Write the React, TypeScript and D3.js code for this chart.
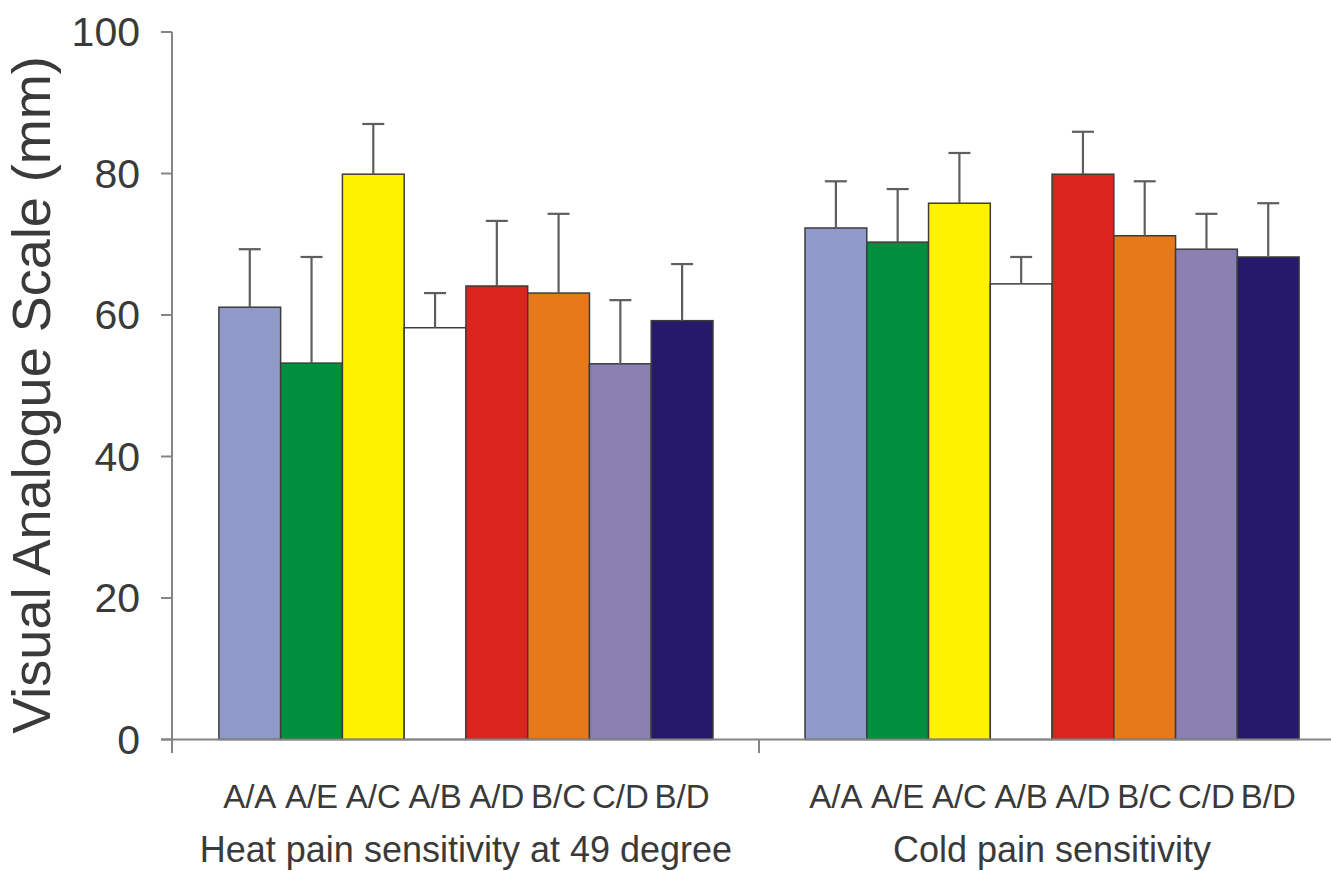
import * as d3 from "d3";

const groups = ["Heat pain sensitivity at 49 degree", "Cold pain sensitivity"];
const categories = ["A/A", "A/E", "A/C", "A/B", "A/D", "B/C", "C/D", "B/D"];
const barColors = ["#8f9ac8", "#008e3f", "#fff200", "#ffffff", "#dc241f", "#e8791b", "#8a80b2", "#26196b"];

// mean VAS (mm) and upper SD, per genotype
const heatMeans = [61.1, 53.2, 79.9, 58.2, 64.1, 63.1, 53.1, 59.2];
const heatSd = [8.2, 15.0, 7.1, 4.9, 9.2, 11.2, 9.0, 8.0];
const coldMeans = [72.3, 70.3, 75.8, 64.4, 79.9, 71.2, 69.3, 68.2];
const coldSd = [6.6, 7.5, 7.1, 3.8, 6.0, 7.7, 5.0, 7.6];

const yTicks = [0, 20, 40, 60, 80, 100];

const width = 1331;
const height = 871;
const axisColor = "#858585";
const textColor = "#3a3a3a";

export default function App() {
  const y = d3.scaleLinear().domain([0, 100]).range([739.5, 32]);
  const groupX = d3
    .scaleBand<string>()
    .domain(groups)
    .range([172, 1346])
    .paddingInner(0.157)
    .paddingOuter(0.08);
  const barX = d3
    .scaleBand<string>()
    .domain(categories)
    .range([0, groupX.bandwidth()])
    .padding(0);

  const series = [
    { group: groups[0], means: heatMeans, sd: heatSd },
    { group: groups[1], means: coldMeans, sd: coldSd },
  ];

  const axisX = 172;
  const y0 = y(0);
  const dividerX =
    ((groupX(groups[0]) ?? 0) + groupX.bandwidth() + (groupX(groups[1]) ?? 0)) / 2;
  const capHalf = 11;

  return (
    <svg
      width={width}
      height={height}
      style={{ position: "absolute", left: 0, top: 0, display: "block", background: "#fff" }}
      fontFamily="'Liberation Sans', Arial, sans-serif"
    >
      {/* bars */}
      {series.map((s) => {
        const gx = groupX(s.group) ?? 0;
        return (
          <g key={s.group}>
            {categories.map((c, i) => {
              const x = gx + (barX(c) ?? 0);
              return (
                <rect
                  key={c}
                  x={x}
                  y={y(s.means[i])}
                  width={barX.bandwidth()}
                  height={y0 - y(s.means[i])}
                  fill={barColors[i]}
                  stroke="#3c3c3c"
                  strokeWidth={1.5}
                />
              );
            })}
            {categories.map((c, i) => {
              const cx = gx + (barX(c) ?? 0) + barX.bandwidth() / 2;
              const top = y(s.means[i] + s.sd[i]);
              return (
                <g key={`err-${c}`} stroke="#5e5e5e" strokeWidth={2.2}>
                  <line x1={cx} x2={cx} y1={y(s.means[i])} y2={top} />
                  <line x1={cx - capHalf} x2={cx + capHalf} y1={top} y2={top} />
                </g>
              );
            })}
            {categories.map((c) => (
              <text
                key={`lbl-${c}`}
                x={gx + (barX(c) ?? 0) + barX.bandwidth() / 2}
                y={808}
                textAnchor="middle"
                fontSize={33}
                fill={textColor}
              >
                {c}
              </text>
            ))}
            <text
              x={gx + groupX.bandwidth() / 2}
              y={862}
              textAnchor="middle"
              fontSize={36}
              fill={textColor}
            >
              {s.group}
            </text>
          </g>
        );
      })}

      {/* axes */}
      <line x1={161} x2={width} y1={y0} y2={y0} stroke={axisColor} strokeWidth={2} />
      <line x1={axisX} x2={axisX} y1={y(100)} y2={753} stroke={axisColor} strokeWidth={2} />
      <line x1={dividerX} x2={dividerX} y1={y0} y2={753} stroke={axisColor} strokeWidth={2} />
      {yTicks.map((t) => (
        <g key={`yt-${t}`}>
          <line x1={161} x2={axisX} y1={y(t)} y2={y(t)} stroke={axisColor} strokeWidth={2} />
          <text
            x={140}
            y={y(t)}
            textAnchor="end"
            dominantBaseline="central"
            fontSize={41}
            fill={textColor}
          >
            {t}
          </text>
        </g>
      ))}

      <text
        transform={`translate(50, 395) rotate(-90)`}
        textAnchor="middle"
        fontSize={54}
        fill={textColor}
      >
        Visual Analogue Scale (mm)
      </text>
    </svg>
  );
}
